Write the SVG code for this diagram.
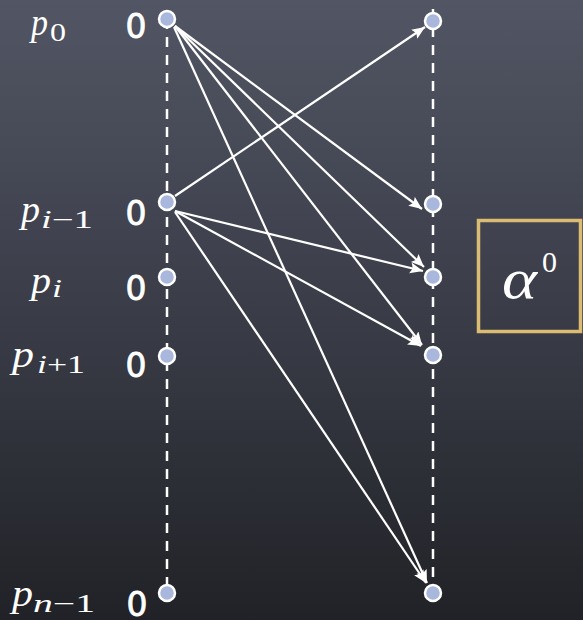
<svg xmlns="http://www.w3.org/2000/svg" width="583" height="620" viewBox="0 0 583 620">
<defs>
<linearGradient id="bg" x1="0" y1="0" x2="0" y2="1">
<stop offset="0" stop-color="#525664"/>
<stop offset="0.5" stop-color="#3a3d48"/>
<stop offset="1" stop-color="#212227"/>
</linearGradient>
<marker id="arr" markerUnits="userSpaceOnUse" markerWidth="14" markerHeight="12" refX="13" refY="5.5" orient="auto">
<path d="M0,0 L13,5.5 L0,11 L2.5,5.5 z" fill="#ffffff"/>
</marker>
<style>
.dash{stroke:#ffffff;stroke-width:2.5;stroke-dasharray:10 8;fill:none}
.edge{stroke:#ffffff;stroke-width:2.2;fill:none;marker-end:url(#arr)}
.node{fill:#a9b7dc;stroke:#ffffff;stroke-width:2.5}
</style>
</defs>
<rect width="583" height="620" fill="url(#bg)"/>

<g id="axes">
<line class="dash" x1="167" y1="19" x2="167" y2="593"/>
<line class="dash" x1="433" y1="9" x2="433" y2="593"/>
</g>

<g id="labels" font-family="'Liberation Serif', 'Times New Roman', serif" font-style="italic" fill="#ffffff">
<g id="label-p0"><text x="31" y="35" font-size="38" textLength="17" lengthAdjust="spacingAndGlyphs">p</text><text font-style="normal" x="50" y="41" font-size="25" textLength="16" lengthAdjust="spacingAndGlyphs">0</text></g>
<g id="label-pim1"><text x="21" y="222" font-size="38" textLength="19" lengthAdjust="spacingAndGlyphs">p</text><text x="41" y="228" font-size="25" textLength="52" lengthAdjust="spacingAndGlyphs">i<tspan font-style="normal">−1</tspan></text></g>
<g id="label-pi"><text x="31" y="293" font-size="38" textLength="20" lengthAdjust="spacingAndGlyphs">p</text><text x="52" y="297" font-size="25" textLength="10" lengthAdjust="spacingAndGlyphs">i</text></g>
<g id="label-pip1"><text x="12" y="367" font-size="38" textLength="22" lengthAdjust="spacingAndGlyphs">p</text><text x="37" y="373" font-size="25" textLength="48" lengthAdjust="spacingAndGlyphs">i<tspan font-style="normal">+1</tspan></text></g>
<g id="label-pnm1"><text x="12" y="606" font-size="38" textLength="21" lengthAdjust="spacingAndGlyphs">p</text><text x="33" y="612" font-size="25" textLength="62" lengthAdjust="spacingAndGlyphs">n<tspan font-style="normal">−1</tspan></text></g>
</g>

<g id="zeros" font-family="'DejaVu Sans', sans-serif" font-size="33" fill="#ffffff" stroke="#ffffff" stroke-width="0.8" text-anchor="middle">
<text x="136" y="38">0</text>
<text x="136" y="225">0</text>
<text x="136" y="300">0</text>
<text x="136" y="377">0</text>
<text x="137" y="616">0</text>
</g>

<g id="connectors">
<line class="edge" x1="175" y1="26" x2="422" y2="209"/>
<line class="edge" x1="175" y1="26" x2="424" y2="267"/>
<line class="edge" x1="175" y1="26" x2="422" y2="345"/>
<line class="edge" x1="174" y1="27" x2="427" y2="583"/>
<line class="edge" x1="175" y1="196" x2="425" y2="27"/>
<line class="edge" x1="175" y1="211" x2="423" y2="271"/>
<line class="edge" x1="175" y1="211" x2="421" y2="346"/>
<line class="edge" x1="175" y1="212" x2="426" y2="583"/>
</g>

<g id="L0"><circle class="node" cx="167" cy="19" r="8"/></g>
<g id="L1"><circle class="node" cx="167" cy="202" r="8"/></g>
<g id="L2"><circle class="node" cx="167" cy="277" r="8"/></g>
<g id="L3"><circle class="node" cx="167" cy="356" r="8"/></g>
<g id="L4"><circle class="node" cx="167" cy="593" r="8"/></g>
<g id="R0"><circle class="node" cx="433" cy="21" r="8"/></g>
<g id="R1"><circle class="node" cx="433" cy="204" r="8"/></g>
<g id="R2"><circle class="node" cx="433" cy="277" r="8"/></g>
<g id="R3"><circle class="node" cx="433" cy="355" r="8"/></g>
<g id="R4"><circle class="node" cx="433" cy="593" r="8"/></g>

<g id="alpha-box" fill="#ffffff">
<rect x="478.5" y="220.5" width="102" height="111" fill="none" stroke="#dcbb72" stroke-width="3.5"/>
<text font-family="'Liberation Serif', 'DejaVu Serif', serif" font-style="italic" x="502" y="298" font-size="58" textLength="35" lengthAdjust="spacingAndGlyphs">α</text>
<text font-family="'Liberation Serif', 'DejaVu Serif', serif" x="542" y="272" font-size="30">0</text>
</g>
</svg>
